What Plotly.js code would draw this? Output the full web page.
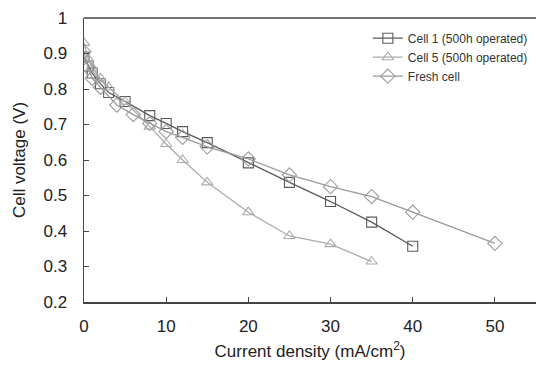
<!DOCTYPE html>
<html>
<head>
<meta charset="utf-8">
<script src="https://cdn.plot.ly/plotly-3.0.1.min.js"></script>
<style>html,body{margin:0;padding:0;background:#fff;}#chart{width:536px;height:365px;}</style>
</head>
<body>
<div id="chart"></div>
<script>
var seriesNames = ["Cell 1 (500h operated)", "Cell 5 (500h operated)", "Fresh cell"];
var cell1X = [0, 0.5, 1, 2, 3, 5, 8, 10, 12, 15, 20, 25, 30, 35, 40];
var cell1Y = [0.89, 0.865, 0.845, 0.815, 0.79, 0.765, 0.725, 0.703, 0.68, 0.649, 0.592, 0.537, 0.483, 0.425, 0.357];
var cell5X = [0, 0.5, 1, 2, 3, 5, 8, 10, 12, 15, 20, 25, 30, 35];
var cell5Y = [0.93, 0.885, 0.86, 0.83, 0.805, 0.764, 0.694, 0.645, 0.6, 0.537, 0.453, 0.386, 0.363, 0.314];
var freshX = [0, 0.5, 1, 2, 4, 6, 8, 10, 12, 15, 20, 25, 30, 35, 40, 50];
var freshY = [0.905, 0.86, 0.83, 0.805, 0.755, 0.728, 0.703, 0.68, 0.664, 0.637, 0.603, 0.558, 0.525, 0.497, 0.453, 0.365];
var xTicks = [0, 10, 20, 30, 40, 50];
var yTicks = [0.2, 0.3, 0.4, 0.5, 0.6, 0.7, 0.8, 0.9, 1];
var yTickText = ["0.2", "0.3", "0.4", "0.5", "0.6", "0.7", "0.8", "0.9", "1"];

function tr(x, y, name, sym, col) {
  return {
    x: x, y: y, name: name, type: "scatter", mode: "lines+markers",
    line: {color: col, width: 1.3},
    marker: {symbol: sym, size: sym === "diamond-open" ? 11 : 10, color: col, line: {color: col, width: 1.1}}
  };
}
var data = [
  tr(cell1X, cell1Y, seriesNames[0], "square-open", "#5a5a5a"),
  tr(cell5X, cell5Y, seriesNames[1], "triangle-up-open", "#ababab"),
  tr(freshX, freshY, seriesNames[2], "diamond-open", "#9a9a9a")
];
var layout = {
  width: 536, height: 365,
  margin: {l: 84, r: 0, t: 18, b: 63},
  paper_bgcolor: "#fff", plot_bgcolor: "#fff",
  font: {family: "Arial, Liberation Sans, sans-serif", color: "#222"},
  showlegend: true,
  legend: {x: 0.628, xanchor: "left", y: 0.98, yanchor: "top", font: {size: 12, color: "#333"}, bgcolor: "rgba(0,0,0,0)", tracegroupgap: 0},
  xaxis: {
    range: [0, 55], tickvals: xTicks, ticks: "inside", ticklen: 5, tickcolor: "#444",
    showgrid: false, zeroline: false, showline: true, linecolor: "#444", linewidth: 1.5,
    tickfont: {size: 17, color: "#222"}, ticklabelstandoff: 8,
    title: {text: "Current density (mA/cm<sup>2</sup>)", font: {size: 17, color: "#222"}, standoff: 10}
  },
  yaxis: {
    range: [0.2, 1], tickvals: yTicks, ticktext: yTickText, ticks: "inside", ticklen: 5, tickcolor: "#444",
    showgrid: false, zeroline: false, showline: true, linecolor: "#444", linewidth: 1.5,
    tickfont: {size: 17, color: "#222"}, ticklabelstandoff: 12,
    title: {text: "Cell voltage (V)", font: {size: 17, color: "#222"}, standoff: 13}
  },
  shapes: [{type: "line", xref: "paper", yref: "paper", x0: 0, x1: 1, y0: 1, y1: 1, line: {color: "#444", width: 1.5}}]
};
Plotly.newPlot("chart", data, layout, {displayModeBar: false, staticPlot: true});
</script>
</body>
</html>
